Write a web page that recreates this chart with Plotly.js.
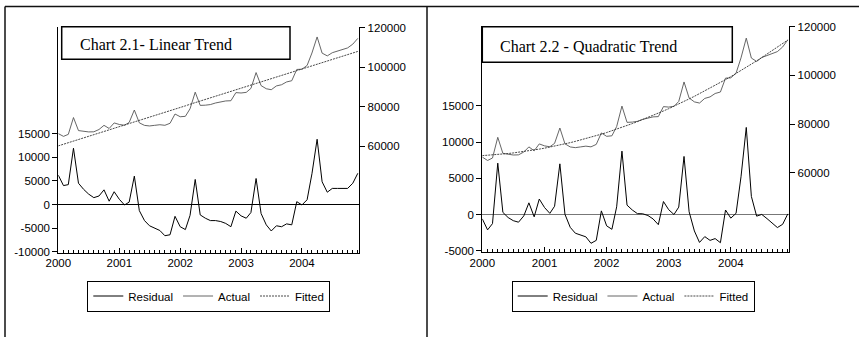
<!DOCTYPE html>
<html>
<head>
<meta charset="utf-8">
<script src="https://cdn.plot.ly/plotly-3.0.1.min.js"></script>
<style>html,body{margin:0;padding:0;background:#fff;}#chart{width:859px;height:337px;}</style>
</head>
<body>
<div id="chart"></div>
<script>
// ---- data (monthly, Jan 2000 - Dec 2004) ----
const startYear = 2000;
const nMonths = 60;
const months = [];
for (let i = 0; i < nMonths; i++) {
  const y = startYear + Math.floor(i / 12), m = (i % 12) + 1;
  months.push(y + '-' + String(m).padStart(2, '0') + '-01');
}

const actual = [66400,65010,66020,74530,67940,67450,67260,67320,68480,70590,69000,71810,
  71020,70630,72040,78350,71860,70570,70280,70590,70900,70610,71620,76330,
  74940,75150,78960,87370,80680,80790,81100,81910,82520,82930,83040,87150,
  86960,87270,89280,97290,90700,89110,88620,90530,91140,92550,93160,98870,
  98980,100890,107200,115310,107120,105730,107340,108150,108960,109770,111680,114590];

const fittedLinear = [60200,61010,61820,62630,63440,64250,65060,65870,66680,67490,68300,69110,
  69920,70730,71540,72350,73160,73970,74780,75590,76400,77210,78020,78830,
  79640,80450,81260,82070,82880,83690,84500,85310,86120,86930,87740,88550,
  89360,90170,90980,91790,92600,93410,94220,95030,95840,96650,97460,98270,
  99080,99890,100700,101510,102320,103130,103940,104750,105560,106370,107180,107990];

const residLinear = [6200,4000,4200,11900,4500,3200,2200,1450,1800,3100,700,2700,
  1100,-100,500,6000,-1300,-3400,-4500,-5000,-5500,-6600,-6400,-2500,
  -4700,-5300,-2300,5300,-2200,-2900,-3400,-3400,-3600,-4000,-4700,-1400,
  -2400,-2900,-1700,5500,-1900,-4300,-5600,-4500,-4700,-4100,-4300,600,
  -100,1000,6500,13800,4800,2600,3400,3400,3400,3400,4500,6600];

const fittedQuad = [67000,67127,67277,67450,67647,67868,68111,68378,68669,68983,69320,69681,
  70065,70472,70903,71358,71835,72336,72861,73409,73980,74575,75193,75834,
  76499,77188,77899,78634,79393,80175,80980,81809,82661,83536,84435,85358,
  86303,87272,88265,89281,90320,91383,92469,93578,94711,95868,97047,98250,
  99477,100727,102000,103297,104617,105960,107327,108718,110131,111568,113029,114513];

const residQuad = [-600,-2120,-1260,7080,290,-420,-850,-1060,-190,1610,-320,2130,
  960,160,1140,6990,30,-1770,-2580,-2820,-3080,-3970,-3570,500,
  -1560,-2040,1060,8740,1290,620,120,100,-140,-610,-1400,1790,
  660,0,1020,8010,380,-2270,-3850,-3050,-3570,-3320,-3890,620,
  -500,160,5200,12010,2500,-230,10,-570,-1170,-1800,-1350,80];

const leftTicks1 = [-10000,-5000,0,5000,10000,15000];
const leftText1 = ['-10000','-5000','0','5000','10000','15000'];
const leftTicks2 = [-5000,0,5000,10000,15000];
const leftText2 = ['-5000','0','5000','10000','15000'];
const rightTicks = [60000,80000,100000,120000];
const seriesNames = ['Residual','Actual','Fitted'];
const titles = ['Chart 2.1- Linear Trend','Chart 2.2 - Quadratic Trend'];

// ---- layout helpers ----
const W = 859, H = 337;
const px = v => v / W;
const py = v => 1 - v / H;
const tickFont = {family: 'Liberation Sans, Arial, sans-serif', size: 11.5, color: '#000'};

const resStyle = {color: '#000', width: 1};
const actStyle = {color: '#555', width: 0.9};
const fitStyle = {color: '#333', width: 0.9, dash: '2px,1px'};

const traces = [
  {x: months, y: residLinear, xaxis: 'x', yaxis: 'y', name: seriesNames[0], type: 'scatter', mode: 'lines', line: resStyle, legend: 'legend'},
  {x: months, y: actual, xaxis: 'x', yaxis: 'y2', name: seriesNames[1], type: 'scatter', mode: 'lines', line: actStyle, legend: 'legend'},
  {x: months, y: fittedLinear, xaxis: 'x', yaxis: 'y2', name: seriesNames[2], type: 'scatter', mode: 'lines', line: fitStyle, legend: 'legend'},
  {x: months, y: residQuad, xaxis: 'x2', yaxis: 'y3', name: seriesNames[0], type: 'scatter', mode: 'lines', line: resStyle, legend: 'legend2'},
  {x: months, y: actual, xaxis: 'x2', yaxis: 'y4', name: seriesNames[1], type: 'scatter', mode: 'lines', line: actStyle, legend: 'legend2'},
  {x: months, y: fittedQuad, xaxis: 'x2', yaxis: 'y4', name: seriesNames[2], type: 'scatter', mode: 'lines', line: fitStyle, legend: 'legend2'}
];

function xAxis(domain, anchor) {
  return {
    domain: domain, anchor: anchor, type: 'date',
    range: ['2000-01-01', '2004-12-10'],
    tick0: '2000-01-01', dtick: 'M12', tickformat: '%Y',
    ticks: 'inside', ticklen: 5, tickcolor: '#000', tickwidth: 1,
    minor: {dtick: 'M1', ticks: 'inside', ticklen: 3, tickcolor: '#000', tickwidth: 1, showgrid: false},
    showline: true, linecolor: '#000', linewidth: 1,
    showgrid: false, zeroline: false, tickfont: tickFont, fixedrange: true
  };
}
function leftY(domain, anchor, range, vals, text, zc) {
  return {
    domain: domain, anchor: anchor, range: range,
    tickmode: 'array', tickvals: vals, ticktext: text,
    ticks: 'outside', ticklen: 5, tickcolor: '#000', tickwidth: 1,
    showline: true, linecolor: '#000', linewidth: 1,
    showgrid: false, zeroline: true, zerolinecolor: zc, zerolinewidth: 1,
    tickfont: tickFont, fixedrange: true
  };
}
function rightY(over, anchor, range) {
  return {
    overlaying: over, side: 'right', anchor: anchor, range: range,
    tickmode: 'array', tickvals: rightTicks, ticktext: rightTicks.map(String),
    ticks: 'outside', ticklen: 5, tickcolor: '#000', tickwidth: 1,
    showline: true, linecolor: '#000', linewidth: 1,
    showgrid: false, zeroline: false, tickfont: tickFont, fixedrange: true
  };
}

const legendBase = {
  orientation: 'h', xanchor: 'left', yanchor: 'top',
  bordercolor: '#000', borderwidth: 1, bgcolor: '#fff',
  font: {family: 'Liberation Sans, Arial, sans-serif', size: 11.5, color: '#000'},
  itemwidth: 30, traceorder: 'normal', itemclick: false
};

const frame = {type: 'line', xref: 'paper', yref: 'paper', line: {color: '#111', width: 1.5}};

const layout = {
  width: W, height: H,
  margin: {l: 0, r: 0, t: 0, b: 0, pad: 0},
  paper_bgcolor: '#fff', plot_bgcolor: 'rgba(0,0,0,0)',
  showlegend: true,
  xaxis: xAxis([px(58.3), px(359.3)], 'y'),
  yaxis: leftY([py(252.5), py(26.7)], 'x', [-10150, 37600], leftTicks1, leftText1, '#000'),
  yaxis2: rightY('y', 'x', [6250, 120500]),
  xaxis2: xAxis([px(482.3), px(789.3)], 'y3'),
  yaxis3: leftY([py(251.7), py(26)], 'x2', [-5130, 26000], leftTicks2, leftText2, '#777'),
  yaxis4: rightY('y3', 'x2', [27500, 120300]),
  legend: Object.assign({}, legendBase, {x: px(87.3), y: py(280.5)}),
  legend2: Object.assign({}, legendBase, {x: px(511.7), y: py(280.5)}),
  shapes: [
    Object.assign({}, frame, {x0: px(5), x1: px(5), y0: py(6.5), y1: py(337)}),
    Object.assign({}, frame, {x0: px(427), x1: px(427), y0: py(6.5), y1: py(337)}),
    Object.assign({}, frame, {x0: px(5), x1: px(859), y0: py(6.5), y1: py(6.5)}),
    {type: 'rect', xref: 'paper', yref: 'paper', x0: px(61.7), x1: px(290), y0: py(59.3), y1: py(26.7),
     line: {color: '#000', width: 1.5}, fillcolor: '#fff', layer: 'above'},
    {type: 'rect', xref: 'paper', yref: 'paper', x0: px(482.3), x1: px(732.3), y0: py(62.3), y1: py(26.7),
     line: {color: '#000', width: 1.5}, fillcolor: '#fff', layer: 'above'}
  ],
  annotations: [
    {xref: 'paper', yref: 'paper', x: px(78), y: py(44.5), xanchor: 'left', yanchor: 'middle', showarrow: false,
     text: titles[0], font: {family: 'Liberation Serif, Times New Roman, serif', size: 16, color: '#000'}},
    {xref: 'paper', yref: 'paper', x: px(498), y: py(46), xanchor: 'left', yanchor: 'middle', showarrow: false,
     text: titles[1], font: {family: 'Liberation Serif, Times New Roman, serif', size: 16, color: '#000'}}
  ]
};

Plotly.newPlot('chart', traces, layout, {displayModeBar: false, staticPlot: true});
</script>
</body>
</html>
